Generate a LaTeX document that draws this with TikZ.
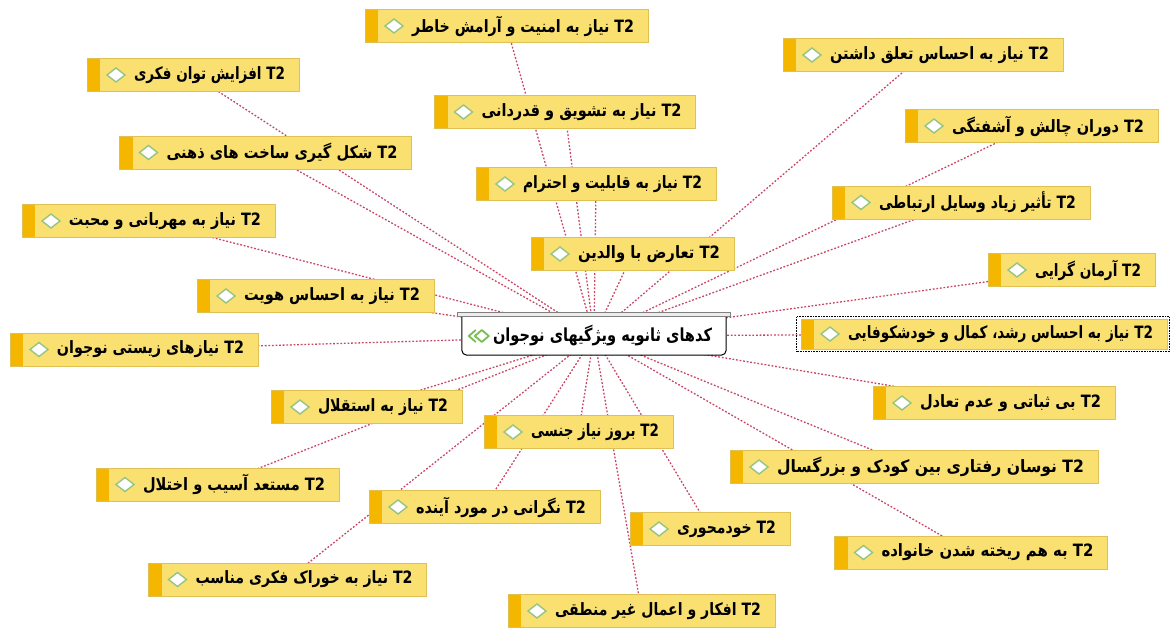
\documentclass[tikz,border=0pt]{standalone}
\usepackage{fontspec}
\usepackage{graphicx}
\setmainfont{DejaVu Sans}
\newfontfamily\fa[Script=Arabic]{DejaVu Sans}
\TeXXeTstate=1
\usetikzlibrary{backgrounds}
\definecolor{boxfill}{RGB}{249,224,112}
\definecolor{boxline}{RGB}{222,192,84}
\definecolor{barcol}{RGB}{245,182,0}
\definecolor{diamcol}{RGB}{150,196,130}
\definecolor{iconcol}{RGB}{120,190,80}
\definecolor{linkcol}{RGB}{200,70,100}
\newsavebox\tbsave
\newlength\tbavail
% #1 box width, #2 left pad, #3 right pad, #4 content
\newcommand\fitline[4]{\sbox\tbsave{#4}\tbavail=\dimexpr #1-#2-#3\relax
  \hbox to #1{\hskip #2\hfil\resizebox{\tbavail}{\height}{\usebox\tbsave}\hskip #3}}
\newcommand\tb[2]{\fitline{#1}{47pt}{14pt}{\beginR\beginL T2\endL{} #2\endR}}
\tikzset{
  tbox/.style={draw=boxline, fill=boxfill, line width=0.8pt, minimum height=33pt,
    inner sep=0pt, font=\fa\bfseries\fontsize{17}{19}\selectfont,
    path picture={
      \fill[barcol] (path picture bounding box.south west) rectangle ([xshift=13pt]path picture bounding box.north west);
      \draw[diamcol, fill=white, line width=1.4pt] ([xshift=20pt]path picture bounding box.west) -- ++(9pt,7pt) -- ++(9pt,-7pt) -- ++(-9pt,-7pt) -- cycle;
    }},
  link/.style={draw=linkcol, line width=1.3pt, dash pattern=on 1.8pt off 1.8pt},
  cbox/.style={fill=white, inner sep=0pt, minimum width=264pt, minimum height=38pt,
    font=\fa\bfseries\fontsize{18}{20}\selectfont}
}
\begin{document}
\begin{tikzpicture}[x=1pt,y=-1pt]
\useasboundingbox (0,0) rectangle (1171,631);
% centre
\node[cbox] (c) at (594,336) {\fitline{264pt}{31pt}{14pt}{\beginR کدهای ثانویه ویژگیهای نوجوان\endR}};
\draw[black, line width=1pt, rounded corners=5pt] (c.north west) -- (c.south west) -- (c.south east) -- (c.north east);
\draw[draw=gray, fill=gray!15, line width=0.8pt] ([xshift=-4pt]c.north west) rectangle ([xshift=4pt,yshift=4pt]c.north east);
\draw[iconcol, line width=1.8pt, line join=round] ([xshift=13pt]c.west) -- ++(7pt,6pt) -- ++(7pt,-6pt) -- ++(-7pt,-6pt) -- cycle;
\draw[iconcol, line width=1.8pt, line join=round] ([xshift=14pt,yshift=6pt]c.west) -- ++(-7pt,-6pt) -- ++(7pt,-6pt);
% outer nodes
\node[tbox] (n1) at (506.5,26) {\tb{283pt}{نیاز به امنیت و آرامش خاطر}};
\node[tbox] (n2) at (923,55) {\tb{280pt}{نیاز به احساس تعلق داشتن}};
\node[tbox] (n3) at (193,75) {\tb{212pt}{افزایش توان فکری}};
\node[tbox] (n4) at (565,112) {\tb{261pt}{نیاز به تشویق و قدردانی}};
\node[tbox] (n5) at (1031.5,126) {\tb{253pt}{دوران چالش و آشفتگی}};
\node[tbox] (n6) at (265.5,152.5) {\tb{292pt}{شکل گیری ساخت های ذهنی}};
\node[tbox] (n7) at (596,184) {\tb{240pt}{نیاز به قابلیت و احترام}};
\node[tbox] (n8) at (961,202.5) {\tb{258pt}{تأثیر زیاد وسایل ارتباطی}};
\node[tbox] (n9) at (148.5,221) {\tb{253pt}{نیاز به مهربانی و محبت}};
\node[tbox] (n10) at (632.5,254) {\tb{203pt}{تعارض با والدین}};
\node[tbox] (n11) at (1071.5,270) {\tb{167pt}{آرمان گرایی}};
\node[tbox] (n12) at (315.5,296) {\tb{237pt}{نیاز به احساس هویت}};
\node[tbox, minimum height=30pt] (n14) at (984,334) {\tb{366pt}{نیاز به احساس رشد، کمال و خودشکوفایی}};
\draw[black, line width=0.6pt, dash pattern=on 0.8pt off 0.8pt] ([shift={(-4pt,-2pt)}]n14.south west) rectangle ([shift={(2pt,2pt)}]n14.north east);
\node[tbox] (n15) at (134,349.5) {\tb{248pt}{نیازهای زیستی نوجوان}};
\node[tbox] (n16) at (366.5,407) {\tb{191pt}{نیاز به استقلال}};
\node[tbox] (n17) at (994,403) {\tb{242pt}{بی ثباتی و عدم تعادل}};
\node[tbox] (n18) at (578.5,432) {\tb{189pt}{بروز نیاز جنسی}};
\node[tbox] (n19) at (914,467) {\tb{368pt}{نوسان رفتاری بین کودک و بزرگسال}};
\node[tbox] (n20) at (217.5,484.5) {\tb{243pt}{مستعد آسیب و اختلال}};
\node[tbox] (n21) at (484.5,507) {\tb{231pt}{نگرانی در مورد آینده}};
\node[tbox] (n22) at (710,529) {\tb{160pt}{خودمحوری}};
\node[tbox] (n23) at (971,552.5) {\tb{273pt}{به هم ریخته شدن خانواده}};
\node[tbox] (n24) at (287.5,579.5) {\tb{278pt}{نیاز به خوراک فکری مناسب}};
\node[tbox] (n25) at (641.5,611) {\tb{267pt}{افکار و اعمال غیر منطقی}};
% links
\begin{scope}[on background layer]
\foreach \n in {n1,n2,n3,n4,n5,n6,n7,n8,n9,n10,n11,n12,n14,n15,n16,n17,n18,n19,n20,n21,n22,n23,n24,n25}
  \draw[link] (c.center) -- (\n.center);
\end{scope}
\end{tikzpicture}
\end{document}
